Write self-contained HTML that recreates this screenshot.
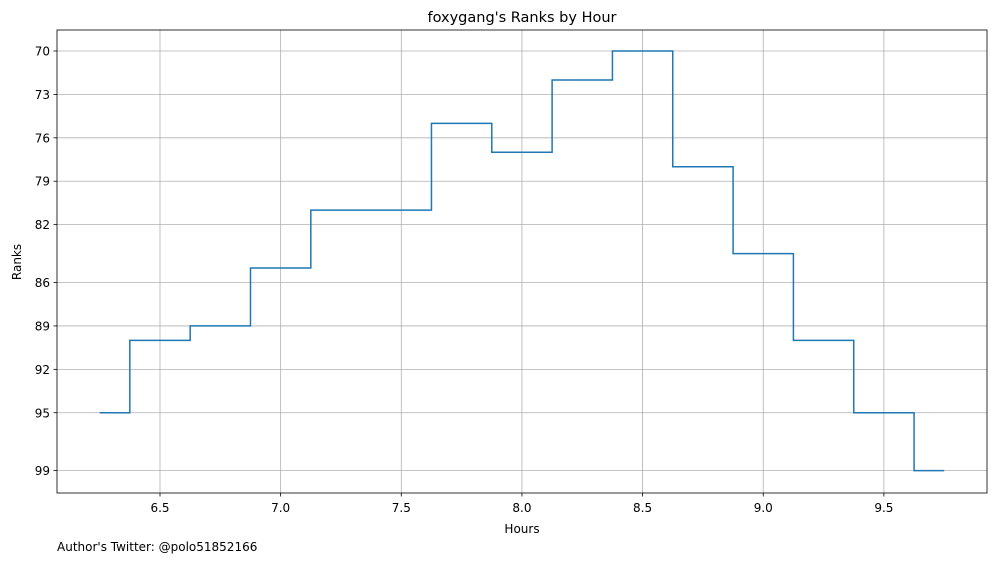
<!DOCTYPE html>
<html><head><meta charset="utf-8"><style>
body{margin:0;background:#fff;}
svg text{font-family:"DejaVu Sans","Liberation Sans",sans-serif;fill:#000;}
</style></head><body>
<svg id="chart" width="997" height="562" xmlns="http://www.w3.org/2000/svg">
<g id="grid"></g>
<path id="line" fill="none" stroke="#1f77b4" stroke-width="1.5"/>
<rect x="57" y="30" width="930" height="463" fill="none" stroke="#000" stroke-width="0.8"/>
<g id="ticks"></g>
<text x="522" y="22" font-size="14.5" text-anchor="middle">foxygang's Ranks by Hour</text>
<text x="522" y="533" font-size="12" text-anchor="middle">Hours</text>
<text transform="translate(21,262) rotate(-90)" font-size="12" text-anchor="middle">Ranks</text>
<text x="57" y="551" font-size="12">Author's Twitter: @polo51852166</text>
</svg>
<script>
const hours=[6.25,6.5,6.75,7.0,7.25,7.5,7.75,8.0,8.25,8.5,8.75,9.0,9.25,9.5,9.75];
const ranks=[95,90,89,85,81,81,75,77,72,70,78,84,90,95,99];
const xTicks=[6.5,7.0,7.5,8.0,8.5,9.0,9.5];
const xTickLabels=["6.5","7.0","7.5","8.0","8.5","9.0","9.5"];
const yTicks=[70,73,76,79,82,86,89,92,95,99];
const yTickLabels=["70","73","76","79","82","86","89","92","95","99"];
const X=v=>160+(v-6.5)*241.3;
const Y=v=>51+(v-70)*14.47;
const NS="http://www.w3.org/2000/svg";
const grid=document.getElementById('grid'),ticks=document.getElementById('ticks');
function mk(tag,attrs,parent){const e=document.createElementNS(NS,tag);for(const k in attrs)e.setAttribute(k,attrs[k]);parent.appendChild(e);return e;}
xTicks.forEach((t,i)=>{
 const g=mk('line',{x1:X(t),x2:X(t),y1:30,y2:493,stroke:'#b0b0b0','stroke-width':0.8},grid);
 
 
 const tk=mk('line',{x1:X(t),x2:X(t),y1:493,y2:496.5,stroke:'#000','stroke-width':0.8},ticks);
 
 
 const l=mk('text',{x:X(t),y:512,'font-size':12,'text-anchor':'middle'},ticks);
 l.textContent=xTickLabels[i];
 
 
});
yTicks.forEach((t,i)=>{
 const g=mk('line',{x1:57,x2:987,y1:Y(t),y2:Y(t),stroke:'#b0b0b0','stroke-width':0.8},grid);
 
 
 const tk=mk('line',{x1:53.5,x2:57,y1:Y(t),y2:Y(t),stroke:'#000','stroke-width':0.8},ticks);
 
 
 const l=mk('text',{x:50,y:Y(t)+4.5,'font-size':12,'text-anchor':'end'},ticks);
 l.textContent=yTickLabels[i];
 
 
});
let d='';
for(let i=0;i<hours.length;i++){
 const left=i===0?hours[0]:(hours[i-1]+hours[i])/2;
 const right=i===hours.length-1?hours[i]:(hours[i]+hours[i+1])/2;
 d+=(i===0?'M':'L')+X(left)+','+Y(ranks[i])+'L'+X(right)+','+Y(ranks[i]);
}
document.getElementById('line').setAttribute('d',d);
</script>
</body></html>
